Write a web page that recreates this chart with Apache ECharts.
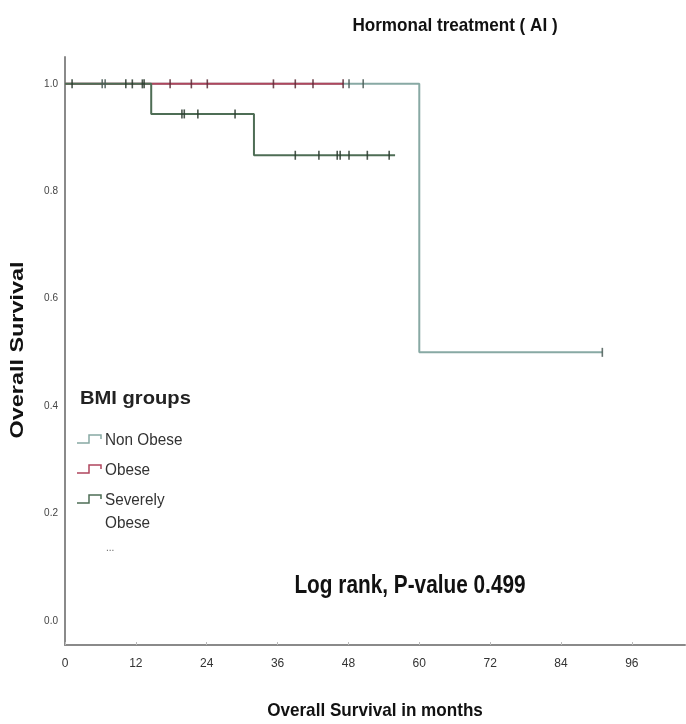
<!DOCTYPE html>
<html>
<head>
<meta charset="utf-8">
<script src="https://cdn.jsdelivr.net/npm/echarts@6/dist/echarts.min.js"></script>
<style>
html,body{margin:0;padding:0;background:#fff;}
#chart{width:686px;height:724px;}
</style>
</head>
<body>
<div id="chart"></div>
<script>
// ---- Data ----
const xTicks = [0, 12, 24, 36, 48, 60, 72, 84, 96];
const yTicks = [0.0, 0.2, 0.4, 0.6, 0.8, 1.0];

// Kaplan-Meier step curves (time in months, survival)
const nonObeseTime = [0, 60, 91];
const nonObeseSurv = [1.0, 0.5, 0.5];
const obeseTime = [0, 47.1];
const obeseSurv = [1.0, 1.0];
const sevObeseTime = [0, 14.6, 32.0, 55.9];
const sevObeseSurv = [1.0, 0.944, 0.867, 0.867];

// Censored observations
const nonObeseCensorTime = [6.3, 6.8, 48.1, 50.5, 91.0];
const nonObeseCensorSurv = [1.0, 1.0, 1.0, 1.0, 0.5];
const obeseCensorTime = [17.8, 21.4, 24.1, 35.3, 39.0, 42.0, 47.1];
const obeseCensorSurv = [1.0, 1.0, 1.0, 1.0, 1.0, 1.0, 1.0];
const sevObeseCensorTime = [1.2, 10.3, 11.4, 13.1, 13.4, 19.8, 20.2, 22.5, 28.8, 39.0, 43.0, 46.1, 46.6, 48.1, 51.2, 54.9];
const sevObeseCensorSurv = [1.0, 1.0, 1.0, 1.0, 1.0, 0.944, 0.944, 0.944, 0.944, 0.867, 0.867, 0.867, 0.867, 0.867, 0.867, 0.867];

const groupNames = ['Non Obese', 'Obese', 'Severely\nObese'];
const colors = ['#88a9a4', '#b0465e', '#4e6d55'];
const censorColors = ['#4a5a56', '#5a2a35', '#2a3a2e'];

const zip = (a, b) => a.map((v, i) => [v, b[i]]);
const FONT = '"Liberation Sans", Arial, sans-serif';

const curves = [
  zip(nonObeseTime, nonObeseSurv),
  zip(obeseTime, obeseSurv),
  zip(sevObeseTime, sevObeseSurv)
];
const censors = [
  zip(nonObeseCensorTime, nonObeseCensorSurv),
  zip(obeseCensorTime, obeseCensorSurv),
  zip(sevObeseCensorTime, sevObeseCensorSurv)
];

const series = [];
curves.forEach((d, i) => {
  series.push({
    type: 'line', step: 'end', data: d, symbol: 'none',
    lineStyle: { color: colors[i], width: 2 }, z: 2 + i, animation: false
  });
});
censors.forEach((d, i) => {
  series.push({
    type: 'scatter', data: d, symbol: 'rect', symbolSize: [1.6, 9],
    itemStyle: { color: censorColors[i], opacity: 0.85 }, z: 6, animation: false
  });
});

// legend drawn as graphic elements (step icons + labels)
const legendTop = [440, 470, 500];
const legendGraphics = [{
  type: 'text', x: 80, y: 399, scaleX: 1.12,
  style: { text: 'BMI groups', font: 'bold 18px ' + FONT, fill: '#222', verticalAlign: 'middle' }
}];
legendTop.forEach((y, i) => {
  legendGraphics.push({
    type: 'polyline',
    shape: { points: [[77, y + 3], [89, y + 3], [89, y - 5], [101, y - 5], [101, y - 1]] },
    style: { stroke: colors[i], lineWidth: 1.5, fill: null }
  });
  legendGraphics.push({
    type: 'text', x: 105, y: y - 11, scaleX: 0.9,
    style: { text: groupNames[i], font: '17px ' + FONT, fill: '#333', lineHeight: 23 }
  });
});
legendGraphics.push({
  type: 'text', x: 106, y: 543,
  style: { text: '...', font: '10px ' + FONT, fill: '#666' }
});

const chart = echarts.init(document.getElementById('chart'), null, { renderer: 'canvas' });
chart.setOption({
  backgroundColor: '#fff',
  animation: false,
  grid: { left: 65, right: 1, top: 57, bottom: 79, containLabel: false },
  xAxis: {
    type: 'value', min: 0, max: 105,
    axisLine: { show: true, onZero: false, lineStyle: { color: '#8a8a8a', width: 2 } },
    axisTick: { show: true, inside: true, length: 3, lineStyle: { color: '#bbb' }, customValues: xTicks },
    axisLabel: { customValues: xTicks, color: '#333', fontSize: 12, fontFamily: FONT, margin: 13 },
    splitLine: { show: false }
  },
  yAxis: {
    type: 'value', min: -0.045, max: 1.05,
    axisLine: { show: true, onZero: false, lineStyle: { color: '#8a8a8a', width: 2 } },
    axisTick: { show: false, customValues: yTicks },
    axisLabel: {
      customValues: yTicks, color: '#444', fontSize: 10, fontFamily: FONT, margin: 7,
      formatter: v => v.toFixed(1)
    },
    splitLine: { show: false }
  },
  series: series,
  graphic: [
    {
      type: 'text', x: 455, y: 26, scaleX: 0.9,
      style: { text: 'Hormonal treatment ( AI )', font: 'bold 19px ' + FONT, fill: '#111', align: 'center', verticalAlign: 'middle' }
    },
    {
      type: 'text', x: 410, y: 586, scaleX: 0.8,
      style: { text: 'Log rank, P-value 0.499', font: 'bold 26px ' + FONT, fill: '#111', align: 'center', verticalAlign: 'middle' }
    },
    {
      type: 'text', x: 375, y: 711, scaleX: 0.9,
      style: { text: 'Overall Survival in months', font: 'bold 19px ' + FONT, fill: '#111', align: 'center', verticalAlign: 'middle' }
    },
    {
      type: 'text', x: 18, y: 350, rotation: Math.PI / 2, scaleX: 1.3,
      style: { text: 'Overall Survival', font: 'bold 18px ' + FONT, fill: '#111', align: 'center', verticalAlign: 'middle' }
    }
  ].concat(legendGraphics)
});
</script>
</body>
</html>
